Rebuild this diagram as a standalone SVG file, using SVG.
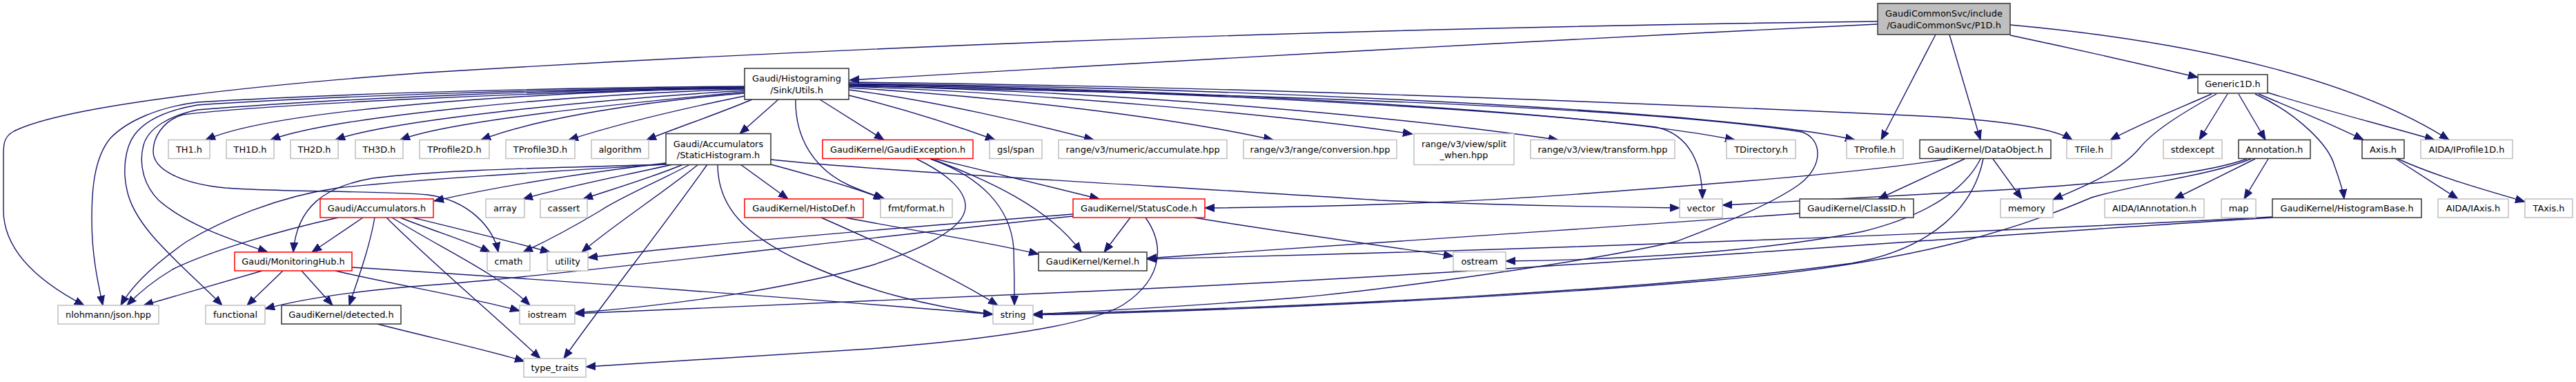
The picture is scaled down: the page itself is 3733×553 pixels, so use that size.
<svg xmlns="http://www.w3.org/2000/svg" width="3733" height="553" viewBox="0 0 3733 553">
<defs>
<marker id="a" markerWidth="14" markerHeight="12" refX="14" refY="6" orient="auto" markerUnits="userSpaceOnUse"><path d="M0,0.5 L14,6 L0,11.5 Z" fill="#191970" stroke="#191970" stroke-width="1"/></marker>
<style>
rect{fill:#fff;stroke:#bfbfbf;stroke-width:1.5}
.b rect{stroke:#333}
.r rect{stroke:#ff0000}
.root rect{fill:#bfbfbf;stroke:#333}
text{font-family:"DejaVu Sans","Liberation Sans",sans-serif;font-size:12.9px;text-anchor:middle;fill:#000}
#edges path{fill:none;stroke:#191970;stroke-width:1.4;marker-end:url(#a)}
</style>
</defs>
<rect x="0" y="0" width="3733" height="553" style="fill:#fff;stroke:none"/>
<g id="edges">
<path d="M2721,35 Q2000,70 1231,116"/>
<path d="M2721,31 Q1600,45 620,105 C400,121 100,150 20,190 C5,198 5,210 5,225 L5,304 C5,370 70,415 122,442"/>
<path d="M2805,50 L2726,202.5"/>
<path d="M2825,50 L2870,202.5"/>
<path d="M2913,51 Q3050,80 3185,112"/>
<path d="M2913,36 C3200,62 3420,120 3549,202.5"/>
<path d="M1079,127 C760,134 400,158 298,202.5"/>
<path d="M1079,129 C800,138 480,170 392,202.5"/>
<path d="M1079,131 C850,145 560,175 486,202.5"/>
<path d="M1079,133 C900,150 650,175 580,202.5"/>
<path d="M1079,135 C950,145 780,170 697,202.5"/>
<path d="M1079,139 C1000,155 900,178 824,202.5"/>
<path d="M1090,144 C1040,165 980,185 937,202.5"/>
<path d="M1128,144 L1072,193.5"/>
<path d="M1079,125 C800,127 500,135 286,148 C230,155 184,175 160,200 C135,230 133,280 133,318 C133,370 142,410 149,442"/>
<path d="M1079,126 C800,129 500,138 286,152 C240,160 210,175 195,195 C180,215 178,250 184,275 C195,330 260,380 322,442"/>
<path d="M1079,127 C800,130 500,142 286,159 C245,168 215,185 208,210 C200,240 210,270 230,290 C270,325 330,345 388,365"/>
<path d="M1079,128 C800,132 400,150 265,166 C235,175 222,200 222,219 C222,245 260,265 326,272 C400,278 550,276 620,282 C680,290 715,330 722,365"/>
<path d="M1188,144 L1281,202.5"/>
<path d="M1230,138 C1300,155 1380,180 1442,202.5"/>
<path d="M1230,130 C1350,145 1500,180 1585,202.5"/>
<path d="M1230,127 C1450,140 1700,170 1845,202.5"/>
<path d="M1230,125 C1500,135 1850,165 2047,194"/>
<path d="M1230,124 C1600,132 2000,165 2258,202.5"/>
<path d="M1230,122 C1700,128 2300,160 2514,202.5"/>
<path d="M1230,121 C1800,127 2500,160 2688,202.5"/>
<path d="M1230,119 C1800,125 2400,150 2806,169 C2920,176 2980,188 3003,202.5"/>
<path d="M1230,123 C1700,130 2200,160 2400,184 C2450,195 2467,240 2467,288"/>
<path d="M1230,124 C1700,135 2350,150 2611,191 C2640,200 2645,240 2606,268 C2560,300 2480,330 2431,349 C2300,380 2000,420 1880,431 C1700,445 1600,450 1497,455"/>
<path d="M1153,144 C1152,200 1180,245 1230,268 C1250,277 1265,282 1282,288"/>
<path d="M965,236 C850,250 720,270 629,291"/>
<path d="M965,238 C800,243 650,245 540,258 C470,270 430,300 425,365"/>
<path d="M965,238 C800,248 600,260 490,272 C400,285 320,320 270,350 C220,385 190,415 175,442"/>
<path d="M975,238 C900,255 820,270 758,288"/>
<path d="M990,238 C950,255 900,270 845,288"/>
<path d="M1000,238 C960,260 900,285 870,305 C820,335 790,350 758,365"/>
<path d="M1012,238 C960,280 890,325 843,365"/>
<path d="M1025,238 C960,330 880,430 817,519"/>
<path d="M1040,238 C1040,300 1080,340 1160,378 C1250,420 1350,445 1439,455"/>
<path d="M1073,238 L1142,288"/>
<path d="M1117,231 C1300,250 1700,270 2000,290 C2200,298 2350,300 2434,301"/>
<path d="M1117,238 C1180,255 1240,272 1280,288"/>
<path d="M526,315 L452,365"/>
<path d="M543,315 C535,360 520,400 506,442"/>
<path d="M490,315 C400,335 300,365 250,390 C220,408 200,425 184,442"/>
<path d="M560,315 C620,375 720,460 783,519"/>
<path d="M568,315 C640,360 720,395 768,442"/>
<path d="M580,315 C630,335 680,350 710,365"/>
<path d="M598,315 C680,335 750,352 797,365"/>
<path d="M380,392 L208,442"/>
<path d="M410,392 L358,442"/>
<path d="M437,392 L482,442"/>
<path d="M510,387 C800,405 1200,435 1439,455"/>
<path d="M486,392 C560,410 680,430 753,450"/>
<path d="M547,469 C620,488 700,505 760,523"/>
<path d="M1328,230 C1380,255 1400,280 1399,300 C1398,330 1340,360 1260,385 C1150,415 1000,440 833,453"/>
<path d="M1348,230 C1420,255 1465,300 1469,360 C1470,400 1470,420 1470,442"/>
<path d="M1350,230 C1430,260 1520,300 1567,365"/>
<path d="M1355,230 C1440,250 1530,272 1593,288"/>
<path d="M1225,315 C1330,335 1440,352 1505,368"/>
<path d="M1190,315 C1270,350 1380,400 1446,442"/>
<path d="M1638,315 L1600,365"/>
<path d="M1730,315 C1850,335 2000,355 2106,371"/>
<path d="M1660,315 C1685,350 1690,400 1628,441 C1580,470 1450,490 1260,505 C1100,515 950,525 849,531"/>
<path d="M1555,310 C1300,330 1000,355 852,373"/>
<path d="M1555,313 C1200,350 800,400 620,413 C500,422 430,435 384,447"/>
<path d="M2823,230 C2700,250 2500,265 2300,280 C2100,295 1900,300 1746,301"/>
<path d="M2847,230 C2800,252 2760,270 2722,288"/>
<path d="M2870,230 C2850,270 2800,310 2700,335 C2550,365 2350,376 2182,378"/>
<path d="M2874,230 C2860,300 2800,360 2684,381 C2400,420 1900,445 1497,455"/>
<path d="M2888,230 L2930,288"/>
<path d="M2608,309 C2300,330 1900,360 1662,374"/>
<path d="M3205,136 C3150,160 3100,180 3058,202.5"/>
<path d="M3212,136 C3160,165 3120,190 3100,215 C3070,250 3020,270 2975,289"/>
<path d="M3228,136 L3187,202.5"/>
<path d="M3244,136 L3283,202.5"/>
<path d="M3268,136 C3330,165 3375,210 3383,240 C3392,265 3396,280 3397,288"/>
<path d="M3273,136 C3330,160 3380,180 3425,202.5"/>
<path d="M3286,134 C3370,160 3450,180 3528,202.5"/>
<path d="M3268,230 L3151,288"/>
<path d="M3287,230 L3252,288"/>
<path d="M3256,230 C3200,250 3100,262 2900,275 C2700,285 2600,292 2496,297"/>
<path d="M3262,230 C3200,255 3100,265 3031,286 C2950,320 2800,380 2480,406 C2200,430 1800,450 1497,456"/>
<path d="M3293,314 C2900,335 2300,360 1662,375"/>
<path d="M3293,315 C2800,345 2200,395 1526,424 C1200,440 1000,448 833,454"/>
<path d="M3472,230 L3562,288"/>
<path d="M3475,230 C3530,255 3600,275 3659,292"/>
</g>
<g id="n_p1d" class="root"><rect x="2721" y="5" width="192" height="45"/><text x="2817" y="24">GaudiCommonSvc/include</text><text x="2817" y="40.5">/GaudiCommonSvc/P1D.h</text></g>
<g id="n_utils" class="b"><rect x="1079" y="99" width="151" height="45"/><text x="1154.5" y="118">Gaudi/Histograming</text><text x="1154.5" y="134.5">/Sink/Utils.h</text></g>
<g id="n_generic1d" class="b"><rect x="3185" y="108" width="101" height="27"/><text x="3235.5" y="126">Generic1D.h</text></g>
<g id="n_th1"><rect x="244" y="202.5" width="60" height="27"/><text x="274" y="220.5">TH1.h</text></g>
<g id="n_th1d"><rect x="328" y="202.5" width="69" height="27"/><text x="362.5" y="220.5">TH1D.h</text></g>
<g id="n_th2d"><rect x="421" y="202.5" width="69" height="27"/><text x="455.5" y="220.5">TH2D.h</text></g>
<g id="n_th3d"><rect x="515" y="202.5" width="69" height="27"/><text x="549.5" y="220.5">TH3D.h</text></g>
<g id="n_tprofile2d"><rect x="608" y="202.5" width="101" height="27"/><text x="658.5" y="220.5">TProfile2D.h</text></g>
<g id="n_tprofile3d"><rect x="733" y="202.5" width="100" height="27"/><text x="783" y="220.5">TProfile3D.h</text></g>
<g id="n_algorithm"><rect x="857" y="202.5" width="83" height="27"/><text x="898.5" y="220.5">algorithm</text></g>
<g id="n_statichist" class="b"><rect x="965" y="193.5" width="152" height="45"/><text x="1041" y="212.5">Gaudi/Accumulators</text><text x="1041" y="229">/StaticHistogram.h</text></g>
<g id="n_gaudiexception" class="r"><rect x="1192" y="202.5" width="218" height="27"/><text x="1301" y="220.5">GaudiKernel/GaudiException.h</text></g>
<g id="n_gslspan"><rect x="1434" y="202.5" width="76" height="27"/><text x="1472" y="220.5">gsl/span</text></g>
<g id="n_accumulate"><rect x="1534" y="202.5" width="244" height="27"/><text x="1656" y="220.5">range/v3/numeric/accumulate.hpp</text></g>
<g id="n_conversion"><rect x="1802" y="202.5" width="222" height="27"/><text x="1913" y="220.5">range/v3/range/conversion.hpp</text></g>
<g id="n_splitwhen"><rect x="2049" y="193.5" width="145" height="45"/><text x="2121.5" y="212.5">range/v3/view/split</text><text x="2121.5" y="229">_when.hpp</text></g>
<g id="n_transform"><rect x="2218" y="202.5" width="209" height="27"/><text x="2322.5" y="220.5">range/v3/view/transform.hpp</text></g>
<g id="n_tdirectory"><rect x="2502" y="202.5" width="100" height="27"/><text x="2552" y="220.5">TDirectory.h</text></g>
<g id="n_tprofile"><rect x="2676" y="202.5" width="82" height="27"/><text x="2717" y="220.5">TProfile.h</text></g>
<g id="n_dataobject" class="b"><rect x="2782" y="202.5" width="190" height="27"/><text x="2877" y="220.5">GaudiKernel/DataObject.h</text></g>
<g id="n_tfile"><rect x="2995" y="202.5" width="65" height="27"/><text x="3027.5" y="220.5">TFile.h</text></g>
<g id="n_stdexcept"><rect x="3135" y="202.5" width="85" height="27"/><text x="3177.5" y="220.5">stdexcept</text></g>
<g id="n_annotation" class="b"><rect x="3244" y="202.5" width="104" height="27"/><text x="3296" y="220.5">Annotation.h</text></g>
<g id="n_axis" class="b"><rect x="3423" y="202.5" width="61" height="27"/><text x="3453.5" y="220.5">Axis.h</text></g>
<g id="n_iprofile1d"><rect x="3508" y="202.5" width="133" height="27"/><text x="3574.5" y="220.5">AIDA/IProfile1D.h</text></g>
<g id="n_accumulators" class="r"><rect x="464" y="288" width="164" height="27"/><text x="546" y="306">Gaudi/Accumulators.h</text></g>
<g id="n_array"><rect x="704" y="288" width="56" height="27"/><text x="732" y="306">array</text></g>
<g id="n_cassert"><rect x="783" y="288" width="68" height="27"/><text x="817" y="306">cassert</text></g>
<g id="n_histodef" class="r"><rect x="1079" y="288" width="172" height="27"/><text x="1165" y="306">GaudiKernel/HistoDef.h</text></g>
<g id="n_fmtformat"><rect x="1276" y="288" width="104" height="27"/><text x="1328" y="306">fmt/format.h</text></g>
<g id="n_statuscode" class="r"><rect x="1555" y="288" width="191" height="27"/><text x="1650.5" y="306">GaudiKernel/StatusCode.h</text></g>
<g id="n_vector"><rect x="2434" y="288" width="62" height="27"/><text x="2465" y="306">vector</text></g>
<g id="n_classid" class="b"><rect x="2608" y="288" width="165" height="27"/><text x="2690.5" y="306">GaudiKernel/ClassID.h</text></g>
<g id="n_memory"><rect x="2899" y="288" width="76" height="27"/><text x="2937" y="306">memory</text></g>
<g id="n_iannotation"><rect x="3050" y="288" width="144" height="27"/><text x="3122" y="306">AIDA/IAnnotation.h</text></g>
<g id="n_map"><rect x="3219" y="288" width="50" height="27"/><text x="3244" y="306">map</text></g>
<g id="n_histogrambase" class="b"><rect x="3293" y="288" width="216" height="27"/><text x="3401" y="306">GaudiKernel/HistogramBase.h</text></g>
<g id="n_iaxis"><rect x="3533" y="288" width="102" height="27"/><text x="3584" y="306">AIDA/IAxis.h</text></g>
<g id="n_taxis"><rect x="3659" y="288" width="69" height="27"/><text x="3693.5" y="306">TAxis.h</text></g>
<g id="n_monitoringhub" class="r"><rect x="340" y="365" width="170" height="27"/><text x="425" y="383">Gaudi/MonitoringHub.h</text></g>
<g id="n_cmath"><rect x="706" y="365" width="62" height="27"/><text x="737" y="383">cmath</text></g>
<g id="n_utility"><rect x="793" y="365" width="59" height="27"/><text x="822.5" y="383">utility</text></g>
<g id="n_kernel" class="b"><rect x="1505" y="365" width="157" height="27"/><text x="1583.5" y="383">GaudiKernel/Kernel.h</text></g>
<g id="n_ostream"><rect x="2106" y="365" width="76" height="27"/><text x="2144" y="383">ostream</text></g>
<g id="n_json"><rect x="84" y="442" width="146" height="27"/><text x="157" y="460">nlohmann/json.hpp</text></g>
<g id="n_functional"><rect x="298" y="442" width="86" height="27"/><text x="341" y="460">functional</text></g>
<g id="n_detected" class="b"><rect x="408" y="442" width="173" height="27"/><text x="494.5" y="460">GaudiKernel/detected.h</text></g>
<g id="n_iostream"><rect x="753" y="442" width="80" height="27"/><text x="793" y="460">iostream</text></g>
<g id="n_string"><rect x="1439" y="442" width="58" height="27"/><text x="1468" y="460">string</text></g>
<g id="n_typetraits"><rect x="759" y="519" width="90" height="27"/><text x="804" y="537">type_traits</text></g>
</svg>
